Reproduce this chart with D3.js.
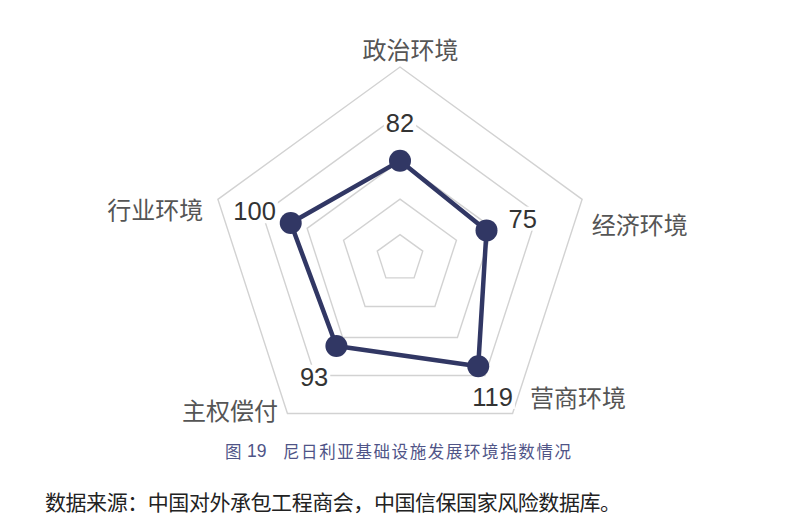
<!DOCTYPE html>
<meta charset="utf-8">
<style>
body { margin: 0; background: #fff; }
.ring { fill: none; stroke: #d2d2d2; stroke-width: 1.4; }
.area { fill: none; stroke: #313764; stroke-width: 4.5; stroke-linejoin: round; }
.dot { fill: #313764; }
.axis-label { font-family: "Noto Sans CJK SC", sans-serif; font-size: 24px; fill: #555; }
.value-label { font-family: "Liberation Sans", Arial, sans-serif; font-size: 25.5px; fill: #333; }
.caption { font-family: "Noto Sans CJK SC", sans-serif; font-size: 16.5px; fill: #4f5487; }
.caption-num { font-family: "Liberation Sans", Arial, sans-serif; font-size: 17.5px; fill: #4f5487; }
.source { font-family: "Noto Sans CJK SC", sans-serif; font-size: 21px; fill: #222; }
</style>
<svg width="796" height="532"></svg>
<script src="https://d3js.org/d3.v7.min.js"></script>
<script>

var axes = ["政治环境", "经济环境", "营商环境", "主权偿付", "行业环境"];
var values = [82, 75, 119, 93, 100];
var ringLevels = [5, 42, 82, 131, 180];
var captionFig = "图";
var captionNo = "19";
var captionText = "尼日利亚基础设施发展环境指数情况";
var source = "数据来源：中国对外承包工程商会，中国信保国家风险数据库。";

var svg = d3.select("svg"),
    cx = 400, cy = 258.5, radius = 191.5;

var r = d3.scaleLinear().domain([-20, 180]).range([0, radius]);
var angle = d3.scaleLinear().domain([0, axes.length]).range([0, 2 * Math.PI]);

function point(i, v) {
  var a = angle(i);
  return [cx + Math.sin(a) * r(v), cy - Math.cos(a) * r(v)];
}

var g = svg.append("g");

// grid rings
g.selectAll(".ring")
    .data(ringLevels)
  .enter().append("path")
    .attr("class", "ring")
    .attr("d", function(lv) {
      return d3.line()(axes.map(function(d, i) { return point(i, lv); })) + "Z";
    });

// data polygon
g.append("path")
    .attr("class", "area")
    .attr("d", d3.line()(values.map(function(v, i) { return point(i, v); })) + "Z");

g.selectAll(".dot")
    .data(values)
  .enter().append("circle")
    .attr("class", "dot")
    .attr("r", 11)
    .attr("cx", function(v, i) { return point(i, v)[0]; })
    .attr("cy", function(v, i) { return point(i, v)[1]; });

// value labels with white box behind
var vl = g.selectAll(".vl")
    .data(values)
  .enter().append("g");

vl.append("text")
    .attr("class", "value-label")
    .attr("text-anchor", "middle")
    .attr("dominant-baseline", "central")
    .attr("x", function(v, i) { var a = angle(i); return cx + Math.sin(a) * (r(v) + 38) - (i == 2 ? 8 : 0); })
    .attr("y", function(v, i) { var a = angle(i); return cy - Math.cos(a) * (r(v) + 38); })
    .text(function(v) { return v; });

vl.each(function() {
  var t = d3.select(this).select("text"), b = t.node().getBBox();
  d3.select(this).insert("rect", "text")
      .attr("x", b.x - 2).attr("y", b.y + 2)
      .attr("width", b.width + 4).attr("height", b.height - 4)
      .attr("fill", "#fff");
});

// axis labels
var labelPos = [
  {dx: 10.5, dy: -18.7, anchor: "middle"},
  {dx: 9.6, dy: 23.7, anchor: "start"},
  {dx: 17.4, dy: -16.7, anchor: "start"},
  {dx: -9.4, dy: -4.4, anchor: "end"},
  {dx: -14.6, dy: 8.7, anchor: "end"}
];

g.selectAll(".axis-label")
    .data(axes)
  .enter().append("text")
    .attr("class", "axis-label")
    .attr("text-anchor", function(d, i) { return labelPos[i].anchor; })
    .attr("dominant-baseline", "central")
    .attr("x", function(d, i) { return point(i, 180)[0] + labelPos[i].dx; })
    .attr("y", function(d, i) { return point(i, 180)[1] + labelPos[i].dy; })
    .text(function(d) { return d; });

// caption: figure number and title
svg.append("text")
    .attr("class", "caption")
    .attr("x", 225)
    .attr("y", 451)
    .attr("dominant-baseline", "central")
    .text(captionFig);

svg.append("text")
    .attr("class", "caption-num")
    .attr("x", 247)
    .attr("y", 451)
    .attr("dominant-baseline", "central")
    .text(captionNo);

svg.append("text")
    .attr("class", "caption")
    .attr("x", 283)
    .attr("y", 451)
    .attr("dominant-baseline", "central")
    .attr("textLength", 288)
    .attr("lengthAdjust", "spacing")
    .text(captionText);

svg.append("text")
    .attr("class", "source")
    .attr("x", 45)
    .attr("y", 501)
    .attr("dominant-baseline", "central")
    .attr("textLength", 576)
    .attr("lengthAdjust", "spacing")
    .text(source);

</script>
